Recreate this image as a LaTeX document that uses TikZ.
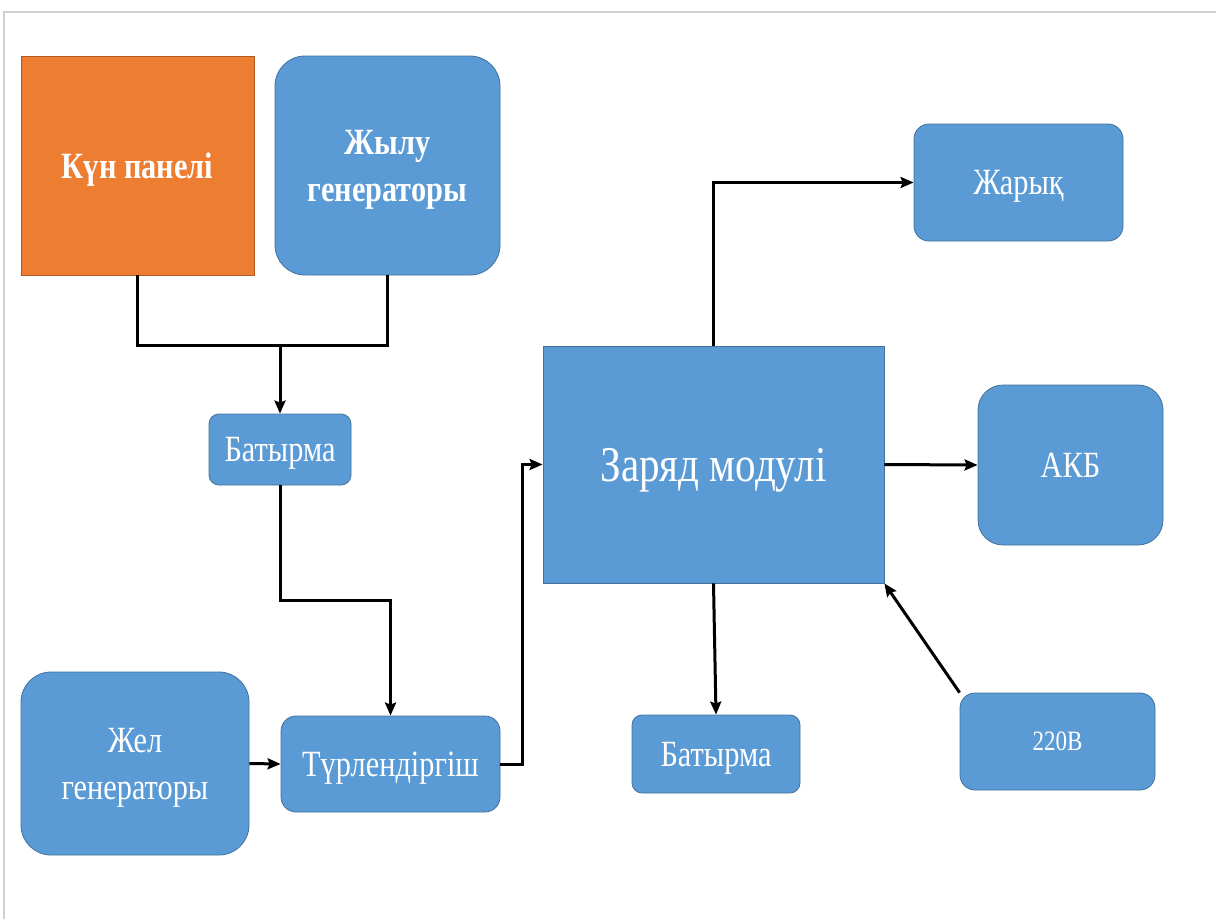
\documentclass[tikz,border=0pt]{standalone}
\usepackage{fontspec}
\setmainfont{Liberation Serif}[FakeStretch=0.82]
\usetikzlibrary{arrows.meta}

\definecolor{boxblue}{HTML}{5B9BD5}
\definecolor{boxedge}{HTML}{41719C}
\definecolor{sunorange}{HTML}{ED7D31}
\definecolor{sunedge}{HTML}{AE5A21}

\tikzset{
    block/.style={draw=boxedge, fill=boxblue, line width=0.8pt, text=white,
        align=center, inner sep=0pt, text depth=0pt, font=\fontsize{37}{47}\selectfont},
    roundblock/.style={block, rounded corners=#1},
    link/.style={line width=3pt},
    arr/.style={link, -{Stealth[length=13pt,width=11pt,inset=2pt]}}
}

\begin{document}
\begin{tikzpicture}[x=1pt,y=-1pt]
    \useasboundingbox (0,0) rectangle (1216,919);
    \draw[black!18, line width=1.5pt] (4,919) -- (4,12) -- (1216,12);

    \node[block, draw=sunedge, fill=sunorange, minimum width=233, minimum height=219, font=\fontsize{37}{47}\selectfont\bfseries] (sun) at (137.5,165.5) {Күн панелі};
    \node[roundblock=30, minimum width=225, minimum height=219, font=\fontsize{37}{47}\selectfont\bfseries] (heat) at (387.5,165.5) {Жылу\\генераторы};
    \node[roundblock=10, minimum width=142, minimum height=71] (bat1) at (280,449.5) {Батырма};
    \node[roundblock=30, minimum width=228, minimum height=183] (wind) at (135,763.5) {Жел\\генераторы};
    \node[roundblock=15, minimum width=219, minimum height=96] (conv) at (390.5,764) {Түрлендіргіш};
    \node[block, minimum width=341, minimum height=237, font=\fontsize{50}{56}\selectfont] (charge) at (713.5,464.5) {Заряд модулі};
    \node[roundblock=15, minimum width=209, minimum height=117] (light) at (1018.5,182.5) {Жарық};
    \node[roundblock=25, minimum width=185, minimum height=160] (akb) at (1070.5,465) {АКБ};
    \node[roundblock=10, minimum width=168, minimum height=78] (bat2) at (716,754) {Батырма};
    \node[roundblock=15, minimum width=195, minimum height=97, font=\fontsize{28}{32}\selectfont] (mains) at (1057.5,741.5) {220В};

    \coordinate (join) at (280,345);
    \coordinate (bend) at (390.5,600);

    \draw[link] (sun.south) |- (join) -| (heat.south);
    \draw[arr] (join) -- (bat1.north);
    \draw[arr] (bat1.south) |- (bend) -- (conv.north);
    \draw[arr] (wind.east) -- (conv.west);
    \draw[arr] (conv.east) -- ++(22,0) |- (charge.west);
    \draw[arr] (charge.north) |- (light.west);
    \draw[arr] (charge.east) -- (akb.west);
    \draw[arr] (charge.south) -- (bat2.north);
    \draw[arr] (mains.north west) -- (charge.south east);
\end{tikzpicture}
\end{document}
